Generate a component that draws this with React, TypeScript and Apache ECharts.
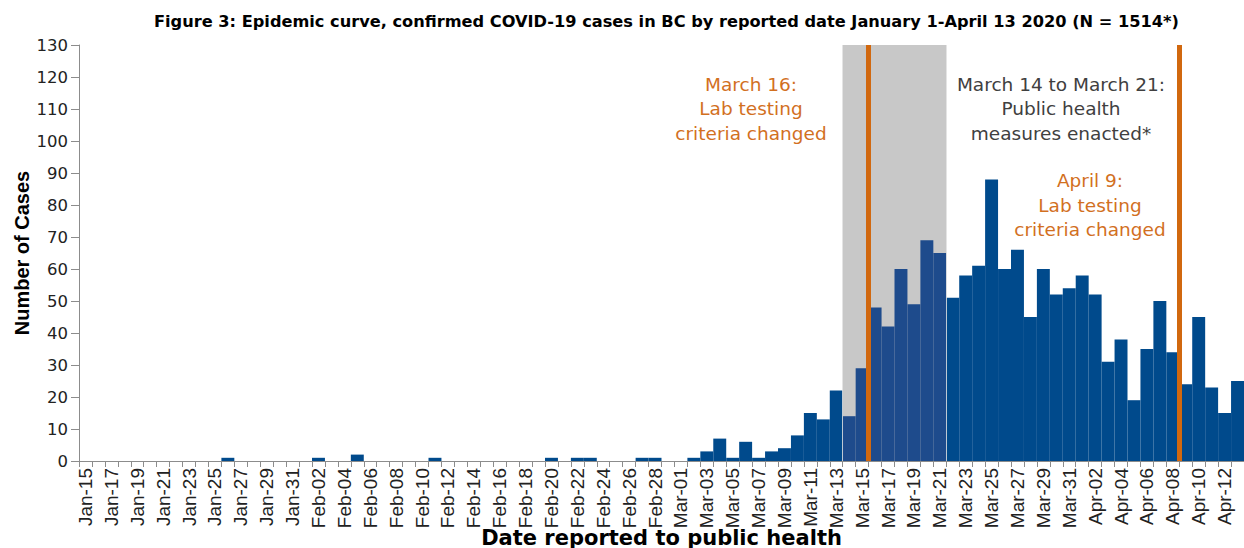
import React, { useEffect, useRef } from "react";
import * as echarts from "echarts";

const dates = [
  "Jan-15", "Jan-16", "Jan-17", "Jan-18", "Jan-19", "Jan-20", "Jan-21", "Jan-22", "Jan-23", "Jan-24",
  "Jan-25", "Jan-26", "Jan-27", "Jan-28", "Jan-29", "Jan-30", "Jan-31",
  "Feb-01", "Feb-02", "Feb-03", "Feb-04", "Feb-05", "Feb-06", "Feb-07", "Feb-08", "Feb-09", "Feb-10",
  "Feb-11", "Feb-12", "Feb-13", "Feb-14", "Feb-15", "Feb-16", "Feb-17", "Feb-18", "Feb-19", "Feb-20",
  "Feb-21", "Feb-22", "Feb-23", "Feb-24", "Feb-25", "Feb-26", "Feb-27", "Feb-28", "Feb-29",
  "Mar-01", "Mar-02", "Mar-03", "Mar-04", "Mar-05", "Mar-06", "Mar-07", "Mar-08", "Mar-09", "Mar-10",
  "Mar-11", "Mar-12", "Mar-13", "Mar-14", "Mar-15", "Mar-16", "Mar-17", "Mar-18", "Mar-19", "Mar-20",
  "Mar-21", "Mar-22", "Mar-23", "Mar-24", "Mar-25", "Mar-26", "Mar-27", "Mar-28", "Mar-29", "Mar-30",
  "Mar-31",
  "Apr-01", "Apr-02", "Apr-03", "Apr-04", "Apr-05", "Apr-06", "Apr-07", "Apr-08", "Apr-09", "Apr-10",
  "Apr-11", "Apr-12", "Apr-13",
];

const casesJan = [0, 0, 0, 0, 0, 0, 0, 0, 0, 0, 0, 1, 0, 0, 0, 0, 0];
const casesFeb = [0, 1, 0, 0, 2, 0, 0, 0, 0, 0, 1, 0, 0, 0, 0, 0, 0, 0, 0, 1, 0, 1, 1, 0, 0, 0, 1, 1, 0];
const casesMar = [0, 1, 3, 7, 1, 6, 1, 3, 4, 8, 15, 13, 22, 14, 29, 48, 42, 60, 49, 69, 65, 51, 58, 61, 88, 60, 66, 45, 60, 52, 54];
const casesApr = [58, 52, 31, 38, 19, 35, 50, 34, 24, 45, 23, 15, 25];
const cases = [...casesJan, ...casesFeb, ...casesMar, ...casesApr];

const yMin = 0;
const yMax = 130;
const yInterval = 10;

const measuresStart = "Mar-14";
const measuresEnd = "Mar-21";
const labChangeDates = ["Mar-16", "Apr-09"];

const TITLE =
  "Figure 3: Epidemic curve, confirmed COVID-19 cases in BC by reported date January 1-April 13 2020 (N = 1514*)";
const X_NAME = "Date reported to public health";
const Y_NAME = "Number of Cases";
const NOTE_MAR16 = "March 16:\nLab testing\ncriteria changed";
const NOTE_MEASURES = "March 14 to March 21:\nPublic health\nmeasures enacted*";
const NOTE_APR9 = "April 9:\nLab testing\ncriteria changed";

const BLUE = "#004a8c";
const BLUE_SHADED = "#1e4b8c";
const GRAY_AREA = "#c8c8c8";
const ORANGE = "#d1680f";
const ORANGE_TEXT = "#d2701f";
const AXIS_GRAY = "#8c8c8c";

export default function App() {
  const ref = useRef<HTMLDivElement>(null);

  useEffect(() => {
    if (!ref.current) return;
    const chart = echarts.init(ref.current, undefined, { renderer: "svg" });

    const sIdx = dates.indexOf(measuresStart);
    const eIdx = dates.indexOf(measuresEnd);

    const barData = cases.map((v, i) => ({
      value: v,
      itemStyle: { color: i >= sIdx && i <= eIdx ? BLUE_SHADED : BLUE },
    }));

    const noteFont = {
      fontFamily: "DejaVu Sans",
      fontSize: 18.5,
      lineHeight: 24.5,
      align: "center",
      verticalAlign: "top",
    };

    const option: any = {
      animation: false,
      title: {
        text: TITLE,
        left: 149,
        top: 8,
        textStyle: {
          fontFamily: "DejaVu Sans",
          fontWeight: "bold",
          fontSize: 16.2,
          color: "#000",
        },
      },
      grid: {
        left: 79,
        right: 0,
        top: 45,
        bottom: 87,
        containLabel: false,
        outerBoundsMode: "none",
      },
      xAxis: [
        {
          type: "category",
          data: dates,
          boundaryGap: true,
          axisLine: { show: true, lineStyle: { color: AXIS_GRAY, width: 1 } },
          axisTick: { show: true, interval: 0, length: 6, lineStyle: { color: AXIS_GRAY } },
          axisLabel: {
            interval: 1,
            rotate: 90,
            margin: 7,
            fontFamily: "Liberation Sans",
            fontSize: 19,
            color: "#222",
          },
          splitLine: { show: false },
          name: X_NAME,
          nameLocation: "middle",
          nameGap: 66,
          nameMoveOverlap: false,
          nameTextStyle: {
            fontFamily: "DejaVu Sans",
            fontWeight: "bold",
            fontSize: 21,
            color: "#000",
          },
        },
        { type: "value", min: 0, max: dates.length, show: false },
      ],
      yAxis: {
        type: "value",
        min: yMin,
        max: yMax,
        interval: yInterval,
        splitLine: { show: false },
        axisLine: { show: true, lineStyle: { color: AXIS_GRAY, width: 1 } },
        axisTick: { show: true, length: 8, lineStyle: { color: AXIS_GRAY } },
        axisLabel: {
          margin: 11,
          fontFamily: "DejaVu Sans",
          fontSize: 16.5,
          color: "#222",
        },
        name: Y_NAME,
        nameLocation: "middle",
        nameRotate: 90,
        nameGap: 47,
        nameMoveOverlap: false,
        nameTextStyle: {
          fontFamily: "Liberation Sans",
          fontWeight: "bold",
          fontSize: 20,
          color: "#000",
        },
      },
      series: [
        {
          type: "line",
          xAxisIndex: 1,
          yAxisIndex: 0,
          data: [],
          z: 1,
          markArea: {
            silent: true,
            z: 1,
            itemStyle: { color: GRAY_AREA },
            data: [[{ xAxis: sIdx }, { xAxis: eIdx + 1 }]],
          },
        },
        {
          type: "bar",
          xAxisIndex: 0,
          yAxisIndex: 0,
          data: barData,
          barCategoryGap: "0%",
          z: 2,
        },
        {
          type: "line",
          xAxisIndex: 1,
          yAxisIndex: 0,
          data: [],
          z: 4,
          markLine: {
            silent: true,
            symbol: "none",
            z: 4,
            label: { show: false },
            lineStyle: { color: "rgba(225,225,225,0.8)", width: 1, type: "solid" },
            data: [{ xAxis: sIdx }, { xAxis: eIdx + 1 }],
          },
        },
        {
          type: "line",
          xAxisIndex: 1,
          yAxisIndex: 0,
          data: [],
          z: 5,
          markLine: {
            silent: true,
            symbol: "none",
            z: 5,
            label: { show: false },
            lineStyle: { color: ORANGE, width: 5, type: "solid" },
            data: labChangeDates.map((d) => ({ xAxis: dates.indexOf(d) })),
          },
        },
      ],
      graphic: [
        {
          type: "text",
          x: 751,
          y: 72,
          silent: true,
          style: { ...noteFont, text: NOTE_MAR16, fill: ORANGE_TEXT },
        },
        {
          type: "text",
          x: 1061,
          y: 72,
          silent: true,
          style: { ...noteFont, text: NOTE_MEASURES, fill: "#404040" },
        },
        {
          type: "text",
          x: 1090,
          y: 168.5,
          silent: true,
          style: { ...noteFont, text: NOTE_APR9, fill: ORANGE_TEXT },
        },
      ],
    };

    chart.setOption(option);
    return () => chart.dispose();
  }, []);

  return (
    <div
      ref={ref}
      style={{ position: "absolute", left: 0, top: 0, width: 1244, height: 548, background: "#fff" }}
    />
  );
}
